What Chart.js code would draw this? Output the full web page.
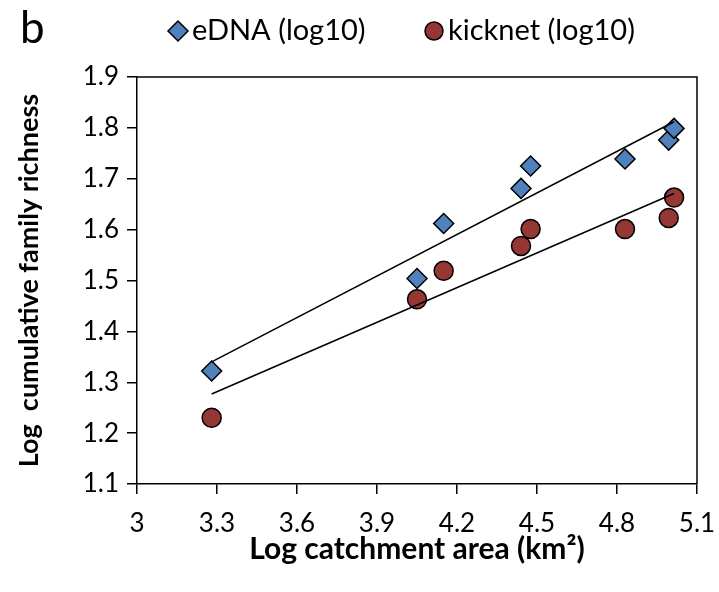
<!DOCTYPE html>
<html>
<head>
<meta charset="utf-8">
<script src="https://cdn.jsdelivr.net/npm/chart.js@4.4.1/dist/chart.umd.min.js"></script>
<style>
  body { margin: 0; background: #fff; }
  #wrap { width: 719px; height: 592px; }
</style>
</head>
<body>
<div id="wrap"><canvas id="myChart" width="719" height="592"></canvas></div>

<script>
// log10 catchment area for each site
var catchment = [3.28, 4.05, 4.15, 4.44, 4.476, 4.83, 4.994, 5.014];
var edna = [1.322, 1.504, 1.612, 1.681, 1.725, 1.739, 1.776, 1.799];
var kicknet = [1.230, 1.463, 1.519, 1.568, 1.601, 1.601, 1.623, 1.663];

// fitted trend lines, ends
var trendX = [3.28, 5.014];
var ednaTrend = [1.340, 1.812];
var kickTrend = [1.277, 1.671];

var xTicks = [3, 3.3, 3.6, 3.9, 4.2, 4.5, 4.8, 5.1];
var yTicks = [1.1, 1.2, 1.3, 1.4, 1.5, 1.6, 1.7, 1.8, 1.9];

var FONT = "Lato";

function pts(xs, ys) {
  return xs.map(function (x, i) { return {x: x, y: ys[i]}; });
}

// top + right sides of the plot box
var frame = {
  id: "frame",
  beforeDatasetsDraw: function (chart) {
    var a = chart.chartArea, c = chart.ctx;
    c.save();
    c.strokeStyle = "#000";
    c.lineWidth = 1.5;
    c.beginPath();
    c.moveTo(a.left, a.top);
    c.lineTo(a.right, a.top);
    c.lineTo(a.right, a.bottom);
    c.stroke();
    c.restore();
  }
};

// panel letter and the legend across the top
var header = {
  id: "header",
  afterDraw: function (chart) {
    var c = chart.ctx;
    c.save();
    c.fillStyle = "#000";
    c.textBaseline = "middle";
    c.font = "44px " + FONT;
    c.fillText("b", 20, 29);

    var items = [
      {ds: chart.data.datasets[2], x: 178},
      {ds: chart.data.datasets[3], x: 434}
    ];
    items.forEach(function (it) {
      c.fillStyle = it.ds.backgroundColor;
      c.strokeStyle = "#000";
      c.lineWidth = 1.5;
      Chart.helpers.drawPoint(c, {
        pointStyle: it.ds.pointStyle,
        radius: it.ds.pointStyle == "circle" ? 9 : 10,
        rotation: 0,
        borderWidth: 1.5
      }, it.x, 31);
      c.fillStyle = "#000";
      c.font = "29px " + FONT;
      c.textAlign = "left";
      c.fillText(it.ds.label, it.x + 14, 31);
    });
    c.restore();
  }
};

new Chart("myChart", {
  type: "scatter",
  data: {
    datasets: [
      {
        label: "eDNA trend",
        type: "line",
        data: pts(trendX, ednaTrend),
        borderColor: "#000",
        borderWidth: 1.5,
        pointRadius: 0,
        fill: false,
        order: 0
      },
      {
        label: "kicknet trend",
        type: "line",
        data: pts(trendX, kickTrend),
        borderColor: "#000",
        borderWidth: 1.5,
        pointRadius: 0,
        fill: false,
        order: 0
      },
      {
        label: "eDNA (log10)",
        data: pts(catchment, edna),
        pointStyle: "rectRot",
        pointRadius: 10,
        pointHoverRadius: 10,
        backgroundColor: "#4f81bd",
        borderColor: "#000",
        borderWidth: 1.5,
        order: 2
      },
      {
        label: "kicknet (log10)",
        data: pts(catchment, kicknet),
        pointStyle: "circle",
        pointRadius: 9.5,
        pointHoverRadius: 9.5,
        backgroundColor: "#953735",
        borderColor: "#000",
        borderWidth: 1.5,
        order: 1
      }
    ]
  },
  options: {
    responsive: false,
    animation: false,
    layout: {padding: {top: 77, right: 22, left: 0, bottom: 0}},
    plugins: {
      legend: {display: false},
      tooltip: {enabled: false}
    },
    scales: {
      x: {
        type: "linear",
        min: 3,
        max: 5.1,
        afterBuildTicks: function (s) { s.ticks = xTicks.map(function (v) { return {value: v}; }); },
        afterFit: function (s) { s.height = 108; s.paddingLeft = 0; s.paddingRight = 0; },
        border: {color: "#000", width: 1.5},
        grid: {drawOnChartArea: false, drawTicks: true, tickLength: 10, color: "#000", lineWidth: 1.5},
        ticks: {
          color: "#000",
          font: {family: FONT, size: 26},
          padding: 14,
          maxRotation: 0,
          callback: function (v) { return String(v); }
        },
        title: {
          display: true,
          text: "Log catchment area (km²)",
          color: "#000",
          font: {family: FONT, size: 30, weight: "bold"},
          padding: {top: 0, bottom: 25}
        }
      },
      y: {
        type: "linear",
        min: 1.1,
        max: 1.9,
        afterBuildTicks: function (s) { s.ticks = yTicks.map(function (v) { return {value: v}; }); },
        afterFit: function (s) { s.width = 137; },
        border: {color: "#000", width: 1.5},
        grid: {drawOnChartArea: false, drawTicks: true, tickLength: 10, color: "#000", lineWidth: 1.5},
        ticks: {
          color: "#000",
          font: {family: FONT, size: 26},
          padding: 8,
          callback: function (v) { return v.toFixed(1); }
        },
        title: {
          display: true,
          text: "Log  cumulative family richness",
          color: "#000",
          font: {family: FONT, size: 27, weight: "bold"},
          padding: {top: 13, bottom: 0}
        }
      }
    }
  },
  plugins: [frame, header]
});
</script>
</body>
</html>
